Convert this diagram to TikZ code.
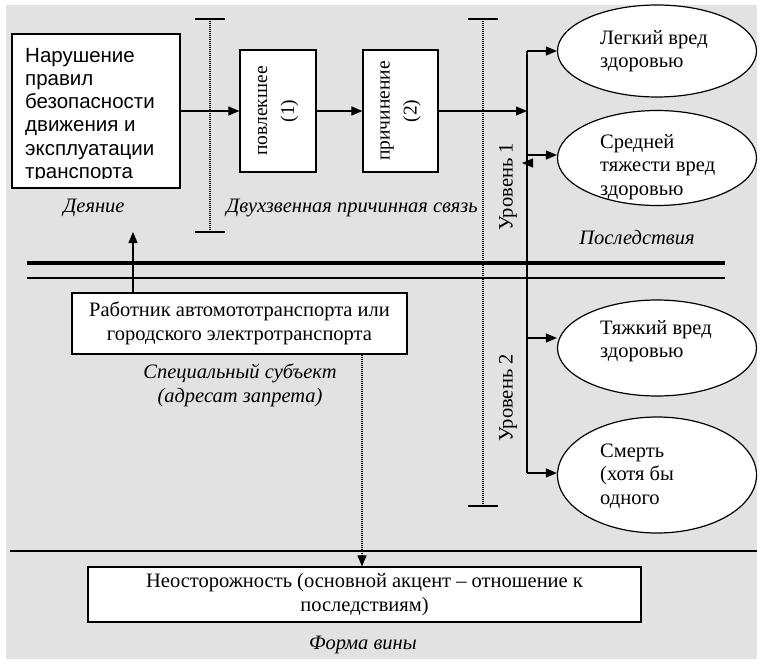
\documentclass[tikz,border=0pt]{standalone}
\usepackage{fontspec}
\setmainfont{Liberation Serif}
\newfontfamily\arialf{Liberation Sans}
\usetikzlibrary{shapes.geometric,arrows.meta}
\definecolor{bggray}{RGB}{226,226,226}
\tikzset{
  arr/.style={line width=1.1pt,-{Triangle[length=11pt,width=9pt]}},
  dotline/.style={line width=1.4pt,dash pattern=on 1pt off 1pt},
  capline/.style={line width=1.4pt},
  boxw/.style={draw,fill=white,line width=1.2pt,inner sep=0pt},
  ell/.style={ellipse,draw,fill=white,line width=1.2pt,minimum width=199pt,inner sep=0pt},
  ser/.style={font=\fontsize{20.5}{24}\selectfont},
  rser/.style={font=\fontsize{19.5}{27}\selectfont},
  itl/.style={font=\fontsize{20.5}{24}\selectfont\itshape,align=center},
  etxt/.style={anchor=west,align=left,font=\fontsize{20.5}{23.3}\selectfont,inner sep=0pt}
}
\begin{document}
\begin{tikzpicture}[x=1pt,y=-1pt]
\useasboundingbox (0,0) rectangle (766,666);
\fill[bggray] (6,5) rectangle (757,659);

% top-left box
\node[boxw,minimum width=168pt,minimum height=154pt] (A) at (96,111) {};
\begin{scope}
\clip (13,35) rectangle (179,179);
\node[anchor=north west,align=left,inner sep=0pt,font=\arialf\fontsize{20.5}{23.2}\selectfont] (At) at (25,48)
{Нарушение\\правил\\безопасности\\движения и\\эксплуатации\\транспорта};
\end{scope}
\node[itl] (deyanie) at (94,208) {Деяние};

% chain boxes
\node[boxw,minimum width=76pt,minimum height=122pt] (B) at (278,111) {};
\node[rotate=90,align=center,rser,inner sep=0pt] (Bt) at (B.center) {повлекшее\\(1)};
\node[boxw,minimum width=75pt,minimum height=122pt] (C) at (400.5,111) {};
\node[rotate=90,align=center,rser,inner sep=0pt] (Ct) at (C.center) {причинение\\(2)};
\node[itl] (dvuh) at (352,208) {Двухзвенная причинная связь};

% dotted dividers
\coordinate (d1t) at (210,19); \coordinate (d1b) at (210,232);
\draw[dotline] (d1t) -- (d1b);
\draw[capline] ([xshift=-15pt]d1t) -- ([xshift=15pt]d1t);
\draw[capline] ([xshift=-15pt]d1b) -- ([xshift=15pt]d1b);
\coordinate (d2t) at (483,19); \coordinate (d2b) at (483,506);
\draw[dotline] (d2t) -- (d2b);
\draw[capline] ([xshift=-15pt]d2t) -- ([xshift=15pt]d2t);
\draw[capline] ([xshift=-15pt]d2b) -- ([xshift=15pt]d2b);

% ellipses
\node[ell,minimum height=92pt] (E1) at (657,51) {};
\node[ell,minimum height=95pt] (E2) at (657,158) {};
\node[ell,minimum height=96pt] (E3) at (657,348) {};
\node[ell,minimum height=116pt] (E4) at (657,475) {};
\node[etxt] (E1t) at (600,51) {Легкий вред\\здоровью};
\node[etxt] (E2t) at (600,167) {Средней\\тяжести вред\\здоровью};
\node[etxt] (E3t) at (600,341) {Тяжкий вред\\здоровью};
\node[etxt] (E4t) at (600,476) {Смерть\\(хотя бы\\одного};

% bus
\coordinate (b1) at (527,51);
\coordinate (bin) at (527,111);
\coordinate (b2) at (527,155);
\coordinate (b3) at (527,338);
\coordinate (b4) at (527,473);
\draw[line width=1.2pt] (b1) -- (b4);
\draw[arr] (b1) -- (E1.west);
\draw[arr] (b2) -- (b2 -| E2.west);
\draw[arr] (b3) -- (b3 -| E3.west);
\draw[arr] (b4) -- (b4 -| E4.west);
\coordinate (stray) at (531,163);
\draw[arr] (stray) -- ++(-9,0);

% chain arrows
\draw[arr] (A.east) -- (B.west);
\draw[arr] (B.east) -- (C.west);
\draw[arr] (C.east) -- (bin);

\node[rotate=90,ser] (lv1) at (508,187) {Уровень 1};
\node[rotate=90,ser] (lv2) at (508,398) {Уровень 2};
\node[itl] (posl) at (637,238) {Последствия};

% horizontal lines
\coordinate (h1l) at (27,263); \coordinate (h1r) at (725,263);
\draw[line width=4pt] (h1l) -- (h1r);
\coordinate (h2l) at (27,278); \coordinate (h2r) at (725,278);
\draw[line width=1.4pt] (h2l) -- (h2r);

% worker box
\node[boxw,minimum width=335pt,minimum height=61pt,align=center,ser] (W) at (239.5,323.5)
{Работник автомототранспорта или\\городского электротранспорта};
\coordinate (wup) at (133,232);
\draw[arr] (W.north -| wup) -- (wup);
\node[itl] (spec) at (240,385) {Специальный субъект\\(адресат запрета)};

% bottom
\coordinate (h3l) at (10,551); \coordinate (h3r) at (757,551);
\draw[line width=1.4pt] (h3l) -- (h3r);
\node[boxw,minimum width=553pt,minimum height=55pt,align=center,ser] (N) at (364.5,594.5)
{Неосторожность (основной акцент – отношение к\\последствиям)};
\coordinate (dx) at (362,0);
\draw[line width=1.1pt,dash pattern=on 1pt off 1pt,-{Triangle[length=11pt,width=9pt]}] (W.south -| dx) -- (N.north -| dx);
\node[itl] (forma) at (363,645) {Форма вины};
\end{tikzpicture}
\end{document}
